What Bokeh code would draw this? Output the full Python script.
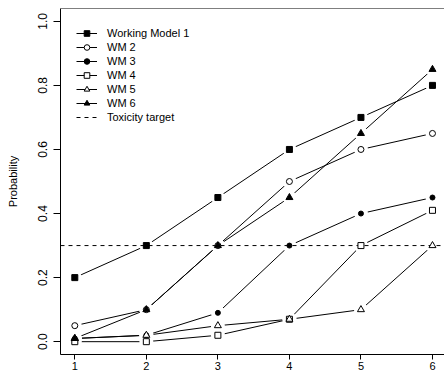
from bokeh.plotting import figure
from bokeh.models import Range1d, LinearAxis, FixedTicker, Legend, LegendItem
from bokeh.embed import file_html
from bokeh.resources import INLINE

# ---- data ----
doses = [1, 2, 3, 4, 5, 6]
wm1 = [0.20, 0.30, 0.45, 0.60, 0.70, 0.80]
wm2 = [0.05, 0.10, 0.30, 0.50, 0.60, 0.65]
wm3 = [0.01, 0.02, 0.09, 0.30, 0.40, 0.45]
wm4 = [0.00, 0.00, 0.02, 0.07, 0.30, 0.41]
wm5 = [0.01, 0.02, 0.05, 0.07, 0.10, 0.30]
wm6 = [0.01, 0.10, 0.30, 0.45, 0.65, 0.85]
target = 0.30
series_names = ["Working Model 1", "WM 2", "WM 3", "WM 4", "WM 5", "WM 6"]
target_name = "Toxicity target"
y_label = "Probability"
x_ticks = [1, 2, 3, 4, 5, 6]
y_ticks = [0.0, 0.2, 0.4, 0.6, 0.8, 1.0]
y_tick_labels = ["0.0", "0.2", "0.4", "0.6", "0.8", "1.0"]

# ---- styles ----
series = [wm1, wm2, wm3, wm4, wm5, wm6]
markers = [
    dict(marker="square", size=6, fill_color="black"),
    dict(marker="circle", size=6, fill_color="white"),
    dict(marker="circle", size=5, fill_color="black"),
    dict(marker="square", size=6, fill_color="white"),
    dict(marker="triangle", size=7, fill_color="white"),
    dict(marker="triangle", size=7, fill_color="black"),
]
FONT = "Liberation Sans"
X_LO, X_HI = 0.8, 6.168
Y_LO, Y_HI = -0.04, 1.04

p = figure(width=444, height=375, x_range=Range1d(X_LO, X_HI), y_range=Range1d(Y_LO, Y_HI),
           x_axis_location=None, y_axis_location=None,
           toolbar_location=None, output_backend="svg",
           min_border_left=60, min_border_right=0, min_border_top=8, min_border_bottom=21)
p.grid.visible = False
p.outline_line_color = None
p.background_fill_color = "white"
p.border_fill_color = "white"

# left axis
yax = LinearAxis(ticker=FixedTicker(ticks=y_ticks),
                 major_label_overrides={t: l for t, l in zip(y_ticks, y_tick_labels)},
                 major_tick_out=7, major_tick_in=0, minor_tick_out=0, minor_tick_in=0,
                 major_label_orientation="vertical", major_label_standoff=6,
                 major_label_text_font=FONT, major_label_text_font_size="12px",
                 major_label_text_color="black",
                 axis_label=y_label, axis_label_text_font=FONT, axis_label_text_font_size="11px",
                 axis_label_text_font_style="normal", axis_label_standoff=17,
                 axis_label_text_color="black",
                 axis_line_color="black", major_tick_line_color="black")
p.add_layout(yax, "left")

# bottom axis (box bottom edge)
xax = LinearAxis(ticker=FixedTicker(ticks=x_ticks),
                 major_tick_out=5, major_tick_in=0, minor_tick_out=0, minor_tick_in=0,
                 major_label_standoff=2, major_label_text_font=FONT,
                 major_label_text_font_size="11px", major_label_text_color="black",
                 axis_line_color="black", major_tick_line_color="black")
p.add_layout(xax, "below")

# top edge of box
tax = LinearAxis(ticker=FixedTicker(ticks=[]), fixed_location=Y_HI,
                 major_tick_out=0, major_tick_in=0, minor_tick_out=0, minor_tick_in=0,
                 major_label_text_font_size="0px", axis_line_color="black")
p.add_layout(tax, "above")

# lines
line_rs = []
for ys in series:
    line_rs.append(p.line(doses, ys, line_color="black", line_width=1))
# gaps around points (type="b")
for ys in series:
    p.scatter(doses, ys, marker="circle", size=14, fill_color="white", line_color=None)

# target line across the plot
target_r = p.line([X_LO, X_HI], [target, target], line_color="black", line_dash="4 4",
                  line_width=1)

# markers
mark_rs = []
for ys, m in zip(series, markers):
    mark_rs.append(p.scatter(doses, ys, line_color="black", line_width=1, **m))

# legend
items = [LegendItem(label=name, renderers=[lr, mr])
         for name, lr, mr in zip(series_names, line_rs, mark_rs)]
items.append(LegendItem(label=target_name, renderers=[target_r]))
legend = Legend(items=items, location=(16, 230), margin=0, padding=0,
                glyph_width=21, glyph_height=14, label_height=14, spacing=0,
                label_standoff=10, label_text_font=FONT, label_text_font_size="11px",
                label_text_color="black",
                background_fill_alpha=0, border_line_color=None)
p.add_layout(legend, "center")

open("out.html", "w").write(file_html(p, INLINE))
